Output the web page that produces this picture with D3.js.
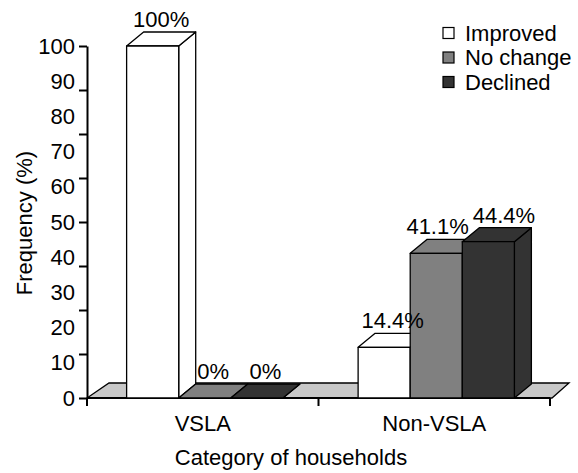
<!DOCTYPE html>
<html>
<head>
<meta charset="utf-8">
<script src="https://cdn.jsdelivr.net/npm/d3@7"></script>
<style>
  body { margin: 0; background: #fff; }
  text { font-family: "Liberation Sans", Arial, sans-serif; fill: #000; }
</style>
</head>
<body>
<div class="chart"></div>
<script>
// data
const categories = ["VSLA", "Non-VSLA"];
const series = ["Improved", "No change", "Declined"];
const improved = [100, 14.4];
const noChange = [0, 41.1];
const declined = [0, 44.4];
const yLabelTicks = [0, 10, 20, 30, 40, 50, 60, 70, 80, 90, 100];
const yMarkTicks = [0, 12.5, 25, 37.5, 50, 62.5, 75, 87.5, 100];

const colors = ["#ffffff", "#808080", "#333333"];
const floorColor = "#c8c8c8";

const W = 578, H = 473;
const plotLeft = 87, plotRight = 550, plotTop = 46, plotBottom = 398;
const dx = 17, dy = 14;
const fontSize = 22;

const svg = d3.select(".chart").append("svg")
    .attr("width", W).attr("height", H);

const y = d3.scaleLinear().domain([0, 100]).range([plotBottom, plotTop]);
const x = d3.scaleBand().domain(categories).range([plotLeft, plotRight]).padding(0);
const xSub = d3.scaleBand().domain(series).range([0, x.bandwidth() * 0.675]);

const values = [improved, noChange, declined];

// floor
svg.append("path")
    .attr("d", d3.line()([[plotLeft, plotBottom], [plotRight + 2, plotBottom], [plotRight + 19, plotBottom - 15], [plotLeft + 22, plotBottom - 15]]) + "Z")
    .attr("fill", floorColor)
    .attr("stroke", "#000")
    .attr("stroke-width", 1.3);

// y axis: tick marks
svg.append("g")
    .attr("transform", "translate(" + plotLeft + ",0)")
    .call(d3.axisLeft(y).tickValues(yMarkTicks).tickSize(8).tickFormat("").tickSizeOuter(0))
    .call(g => g.selectAll("line, path").attr("stroke", "#000").attr("stroke-width", 2));

// y axis: labels
svg.append("g")
    .attr("transform", "translate(" + plotLeft + ",0)")
    .call(d3.axisLeft(y).tickValues(yLabelTicks).tickSize(0).tickPadding(12))
    .call(g => g.select(".domain").remove())
    .call(g => g.selectAll("text")
        .attr("font-size", fontSize)
        .attr("font-family", "Liberation Sans, Arial, sans-serif")
        .attr("fill", "#000"));

// x axis baseline and boundary ticks
svg.append("line")
    .attr("x1", plotLeft).attr("x2", plotRight)
    .attr("y1", plotBottom).attr("y2", plotBottom)
    .attr("stroke", "#000").attr("stroke-width", 2);

const bounds = [x(categories[0])].concat(categories.map(c => x(c) + x.bandwidth()));
svg.selectAll(".xtick").data(bounds).enter().append("line")
    .attr("x1", d => d).attr("x2", d => d)
    .attr("y1", plotBottom).attr("y2", plotBottom + 8)
    .attr("stroke", "#000").attr("stroke-width", 2);

svg.append("g")
    .attr("transform", "translate(0," + plotBottom + ")")
    .call(d3.axisBottom(x).tickSize(0).tickPadding(17))
    .call(g => g.select(".domain").remove())
    .call(g => g.selectAll("text")
        .attr("font-size", fontSize)
        .attr("font-family", "Liberation Sans, Arial, sans-serif")
        .attr("fill", "#000"));

// 3D bars
const labelGroups = [];
categories.forEach(function(cat, ci) {
    const groupW = xSub.range()[1];
    const x0 = x(cat) + x.bandwidth() / 2 - groupW / 2 + 2;
    const labels = [];
    series.forEach(function(s, si) {
        const v = values[si][ci];
        const xl = x0 + xSub(s);
        const xr = xl + xSub.bandwidth();
        const yt = y(v);
        const g = svg.append("g")
            .attr("stroke", "#000")
            .attr("stroke-width", 1.3)
            .attr("stroke-linejoin", "round")
            .attr("fill", colors[si]);
        // side
        g.append("path").attr("d", d3.line()([[xr, plotBottom], [xr + dx, plotBottom - dy], [xr + dx, yt - dy], [xr, yt]]) + "Z");
        // top
        g.append("path").attr("d", d3.line()([[xl, yt], [xl + dx, yt - dy], [xr + dx, yt - dy], [xr, yt]]) + "Z");
        // front
        if (v > 0) {
            g.append("rect")
                .attr("x", xl).attr("y", yt)
                .attr("width", xr - xl).attr("height", plotBottom - yt);
        }
        labels.push({ text: v + "%", cx: (xl + xr) / 2 + dx / 2, y: yt - dy - 5 });
    });
    labelGroups.push(labels);
});

// value labels, nudged apart where they would collide
labelGroups.forEach(function(labels) {
    const nodes = labels.map(l => svg.append("text")
        .attr("text-anchor", "middle")
        .attr("font-size", fontSize)
        .attr("y", l.y)
        .text(l.text));
    labels.forEach((l, i) => { l.w = nodes[i].node().getComputedTextLength(); });
    for (let i = 1; i < labels.length; i++) {
        const a = labels[i - 1], b = labels[i];
        if (Math.abs(a.y - b.y) < fontSize) {
            const need = (a.w + b.w) / 2 + 4 - (b.cx - a.cx);
            if (need > 0) { a.cx -= need / 2; b.cx += need / 2; }
        }
    }
    nodes.forEach((n, i) => n.attr("x", labels[i].cx));
});

// legend
const legend = svg.append("g").attr("transform", "translate(443,33)");
series.forEach(function(s, i) {
    legend.append("rect")
        .attr("x", 0).attr("y", i * 24.5 - 5.5)
        .attr("width", 11).attr("height", 11)
        .attr("fill", colors[i])
        .attr("stroke", "#000").attr("stroke-width", 1.2);
    legend.append("text")
        .attr("x", 22).attr("y", i * 24.5)
        .attr("dy", "0.35em")
        .attr("font-size", fontSize)
        .text(s);
});

// axis titles
svg.append("text")
    .attr("x", 291).attr("y", 465)
    .attr("text-anchor", "middle")
    .attr("font-size", fontSize)
    .text("Category of households");

svg.append("text")
    .attr("transform", "translate(32,223) rotate(-90)")
    .attr("text-anchor", "middle")
    .attr("font-size", fontSize)
    .text("Frequency (%)");
</script>
</body>
</html>
